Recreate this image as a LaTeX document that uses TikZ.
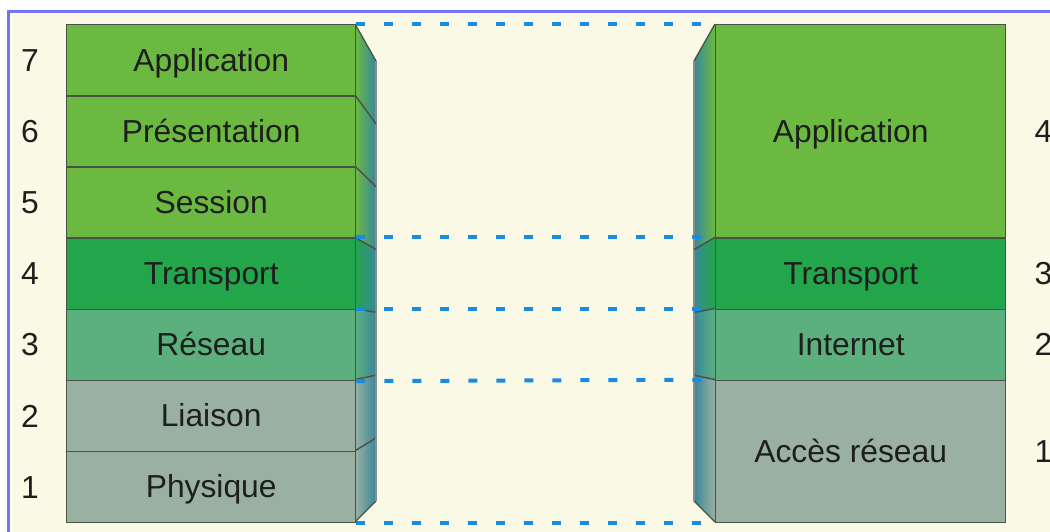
\documentclass[tikz,border=0pt]{standalone}
\usepackage{fontspec}
\setmainfont{Liberation Sans}
\definecolor{cream}{RGB}{250,249,230}
\definecolor{frameblue}{RGB}{115,115,250}
\definecolor{appgreen}{RGB}{108,185,66}
\definecolor{trgreen}{RGB}{35,165,75}
\definecolor{netgreen}{RGB}{92,176,126}
\definecolor{accgray}{RGB}{154,176,162}
\definecolor{sideteal}{RGB}{56,136,154}
\definecolor{edgecol}{RGB}{72,84,66}
\definecolor{txtcol}{RGB}{30,30,30}
\definecolor{dashblue}{RGB}{25,140,225}
% side face of a layer: front x, back x, top y, bottom y, left colour, right colour
\newcommand\layerside[6]{%
  \pgfmathsetmacro\backtop{0.8835*#3+39.8}%
  \pgfmathsetmacro\backbot{0.8835*#4+39.8}%
  \shade[left color=#5, right color=#6]
    (#1,#3) -- (#2,\backtop) -- (#2,\backbot) -- (#1,#4) -- cycle;
  \draw[edgecol, line width=1.3pt] (#1,#3) -- (#2,\backtop);
  \draw[edgecol, line width=1.3pt] (#1,#4) -- (#2,\backbot);
  \draw[black!45, line width=1.2pt] (#2,\backtop) -- (#2,\backbot);
}
\begin{document}
\begin{tikzpicture}[x=1pt, y=-1pt,
  layer/.style={draw=edgecol, line width=1.4pt, inner sep=0pt, anchor=north west,
    text height=28pt, text depth=6.5pt, font=\fontsize{31.8}{38}\selectfont, text=txtcol},
  lbl/.style={inner sep=0pt, text height=28pt, text depth=6.5pt,
    font=\fontsize{31.8}{38}\selectfont, text=txtcol},
  num/.style={inner sep=0pt, font=\fontsize{31.8}{38}\selectfont, text=txtcol},
  link/.style={draw=dashblue, line width=4pt, dash pattern=on 9pt off 19pt}]
\useasboundingbox (0,0) rectangle (1050,532);
% page, frame and panel
\fill[white] (0,0) rectangle (1050,532);
\draw[frameblue, line width=2.6pt] (8.5,11.5) rectangle (1070,560);
\fill[cream] (11.5,14.5) rectangle (1070,560);

% side faces, left stack (front at 355, back at 376)
\layerside{355}{376}{24}{95.14}{appgreen}{sideteal}
\layerside{355}{376}{95.14}{166.29}{appgreen}{sideteal}
\layerside{355}{376}{166.29}{237.43}{appgreen}{sideteal}
\layerside{355}{376}{237.43}{308.57}{trgreen}{sideteal}
\layerside{355}{376}{308.57}{379.71}{netgreen}{sideteal}
\layerside{355}{376}{379.71}{450.86}{accgray}{sideteal}
\layerside{355}{376}{450.86}{522}{accgray}{sideteal}
% side faces, right stack (front at 715, back at 694)
\layerside{715}{694}{24}{237.43}{sideteal}{appgreen}
\layerside{715}{694}{237.43}{308.57}{sideteal}{trgreen}
\layerside{715}{694}{308.57}{379.71}{sideteal}{netgreen}
\layerside{715}{694}{379.71}{522}{sideteal}{accgray}

% OSI model
\node[layer, fill=appgreen, minimum width=289pt, minimum height=71.14pt] (lapp) at (66,24) {Application};
\node[layer, fill=appgreen, minimum width=289pt, minimum height=71.14pt] (lpre) at (66,95.14) {Présentation};
\node[layer, fill=appgreen, minimum width=289pt, minimum height=71.14pt] (lses) at (66,166.29) {Session};
\node[layer, fill=trgreen, minimum width=289pt, minimum height=71.14pt] (ltra) at (66,237.43) {Transport};
\node[layer, fill=netgreen, minimum width=289pt, minimum height=71.14pt] (lres) at (66,308.57) {Réseau};
\node[layer, fill=accgray, minimum width=289pt, minimum height=71.14pt] (llia) at (66,379.71) {Liaison};
\node[layer, fill=accgray, minimum width=289pt, minimum height=71.14pt] (lphy) at (66,450.86) {Physique};

% TCP/IP model
\node[layer, fill=appgreen, minimum width=290pt, minimum height=213.43pt] (rapp) at (715,24) {};
\node[layer, fill=trgreen, minimum width=290pt, minimum height=71.14pt] (rtra) at (715,237.43) {};
\node[layer, fill=netgreen, minimum width=290pt, minimum height=71.14pt] (rint) at (715,308.57) {};
\node[layer, fill=accgray, minimum width=290pt, minimum height=142.29pt] (racc) at (715,379.71) {};
\node[lbl] (tapp) at ([xshift=-10pt]rapp.center) {Application};
\node[lbl] (ttra) at ([xshift=-10pt]rtra.center) {Transport};
\node[lbl] (tint) at ([xshift=-10pt]rint.center) {Internet};
\node[lbl] (tacc) at ([xshift=-10pt]racc.center) {Accès réseau};

% correspondence between the two models
\draw[link] (lapp.north east) -- (rapp.north west);
\draw[link] (ltra.north east) -- (rtra.north west);
\draw[link] (lres.north east) -- (rint.north west);
\draw[link] (lres.south east) -- (racc.north west);
\draw[link] (lphy.south east) -- (racc.south west);

% layer numbers
\coordinate (lcol) at (30,0);
\coordinate (rcol) at (1043.5,0);
\node[num] (n7) at (lcol |- lapp.west) {7};
\node[num] (n6) at (lcol |- lpre.west) {6};
\node[num] (n5) at (lcol |- lses.west) {5};
\node[num] (n4) at (lcol |- ltra.west) {4};
\node[num] (n3) at (lcol |- lres.west) {3};
\node[num] (n2) at (lcol |- llia.west) {2};
\node[num] (n1) at (lcol |- lphy.west) {1};
\node[num] (m4) at (rcol |- rapp.east) {4};
\node[num] (m3) at (rcol |- rtra.east) {3};
\node[num] (m2) at (rcol |- rint.east) {2};
\node[num] (m1) at (rcol |- racc.east) {1};
\end{tikzpicture}
\end{document}
